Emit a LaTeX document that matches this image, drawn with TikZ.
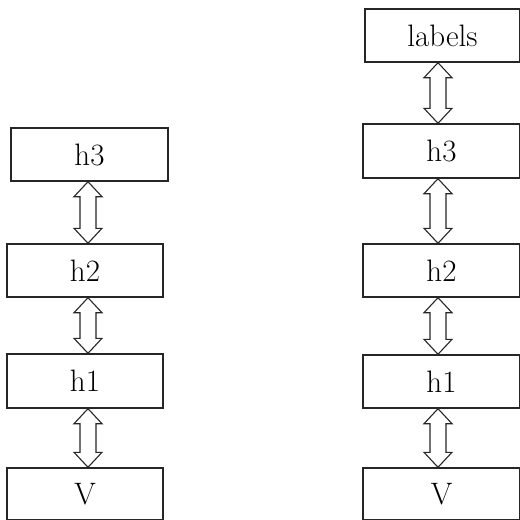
\documentclass[tikz,border=0pt]{standalone}
\usepackage{fontspec}
\usetikzlibrary{calc}
\tikzset{
  layerbox/.style={draw=black!85, line width=1.4pt, minimum width=156pt,
    minimum height=53pt, inner sep=0pt, font=\fontsize{31}{36}\selectfont},
  arrowline/.style={draw=black!85, line width=1.1pt, line join=miter, fill=white}
}
% hollow double-headed arrow between the bottom of #2 and the top of #3,
% centred on the vertical line through coordinate #1
\newcommand\hollowarrow[3]{%
  \draw[arrowline] ($(#1 |- #2.south)$) -- ++(14,15) -- ++(-6,0)
    -- ($(#1 |- #3.north)+(8,-15)$) -- ++(6,0) -- ($(#1 |- #3.north)$)
    -- ++(-14,-15) -- ++(6,0) -- ($(#1 |- #2.south)+(-8,15)$) -- ++(-6,0) -- cycle;}
\begin{document}
\begin{tikzpicture}[x=1pt, y=-1pt]
  \useasboundingbox (0,0) rectangle (520,520);
  % left stack
  \node[layerbox, minimum width=157pt] (lh3) at (89.5,154.5) {h3};
  \node[layerbox] (lh2) at (85,270.5) {h2};
  \node[layerbox, minimum height=54pt] (lh1) at (85,381) {h1};
  \node[layerbox, minimum height=52pt] (lv) at (85,494) {V};
  % right stack
  \node[layerbox, minimum width=155pt] (rlab) at (442.5,35.5) {labels};
  \node[layerbox, minimum width=157pt, minimum height=54pt] (rh3) at (441.5,151) {h3};
  \node[layerbox, minimum width=157pt] (rh2) at (441.5,270.5) {h2};
  \node[layerbox, minimum width=157pt] (rh1) at (441.5,381.5) {h1};
  \node[layerbox, minimum width=157pt, minimum height=52pt] (rv) at (441.5,494) {V};
  % arrow axes
  \coordinate (axl) at (88,0);
  \coordinate (axr) at (438,0);
  \hollowarrow{axl}{lh3}{lh2}
  \hollowarrow{axl}{lh2}{lh1}
  \hollowarrow{axl}{lh1}{lv}
  \hollowarrow{axr}{rlab}{rh3}
  \hollowarrow{axr}{rh3}{rh2}
  \hollowarrow{axr}{rh2}{rh1}
  \hollowarrow{axr}{rh1}{rv}
\end{tikzpicture}
\end{document}
